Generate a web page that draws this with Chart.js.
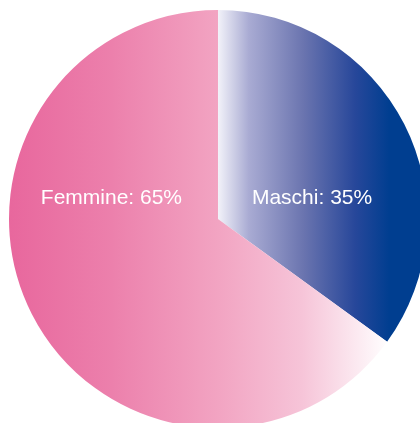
<!DOCTYPE html>
<html>
<head>
<meta charset="utf-8">
<script src="https://cdn.jsdelivr.net/npm/chart.js@4/dist/chart.umd.min.js"></script>
<style>
html,body{margin:0;padding:0;background:#fff;overflow:hidden;width:420px;height:423px;}
#wrap{position:absolute;left:0;top:0;width:436px;height:438px;}
</style>
</head>
<body>
<div id="wrap"><canvas id="ch"></canvas></div>
<script>
// dati
const labels=['Maschi','Femmine'];
const values=[35,65];

// gradienti orizzontali come nel riferimento
function gradMaschi(ctx,cx,r){
    const g=ctx.createLinearGradient(cx,0,cx+r*0.82,0);
    g.addColorStop(0,'#f2f2f9');
    g.addColorStop(0.18,'#a9abd3');
    g.addColorStop(0.5,'#6a74af');
    g.addColorStop(0.8,'#27479a');
    g.addColorStop(1,'#003e90');
    return g;
}
function gradFemmine(ctx,cx,r){
    const g=ctx.createLinearGradient(cx-r,0,cx+r*0.82,0);
    g.addColorStop(0,'#e8679d');
    g.addColorStop(0.27,'#ec80ac');
    g.addColorStop(0.55,'#f2a4c2');
    g.addColorStop(0.77,'#f6c4d8');
    g.addColorStop(1,'#ffffff');
    return g;
}

const sliceLabels={
    id:'sliceLabels',
    afterDatasetsDraw(chart){
        const a=chart.getDatasetMeta(0).data[0];
        if (!a) return;
        const cx=a.x, cy=a.y, r=a.outerRadius;
        const c=chart.ctx;
        c.save();
        c.fillStyle='#ffffff';
        c.font='21px "Liberation Sans", Arial, sans-serif';
        c.textAlign='center';
        c.textBaseline='middle';
        const pos=[[cx+r*0.45,cy-r*0.1],[cx-r*0.51,cy-r*0.1]];
        labels.forEach((l,i)=>{
            c.fillText(l+': '+values[i]+'%',pos[i][0],pos[i][1]);
        });
        c.restore();
    }
};

new Chart(document.getElementById('ch').getContext('2d'),{
    type:'pie',
    data:{labels,datasets:[{
        data:values,
        borderWidth:0,
        backgroundColor:(ctx)=>{
            const chart=ctx.chart, ca=chart.chartArea;
            if (!ca) return ctx.dataIndex===0?'#6a74af':'#f2a4c2';
            const cx=(ca.left+ca.right)/2;
            const r=Math.min(ca.right-ca.left,ca.bottom-ca.top)/2;
            return ctx.dataIndex===0?gradMaschi(chart.ctx,cx,r):gradFemmine(chart.ctx,cx,r);
        }
    }]},
    options:{
        responsive:true,
        maintainAspectRatio:false,
        animation:false,
        layout:{padding:{left:9,right:9,top:10,bottom:10}},
        plugins:{legend:{display:false},tooltip:{enabled:false}}
    },
    plugins:[sliceLabels]
});
</script>
</body>
</html>
